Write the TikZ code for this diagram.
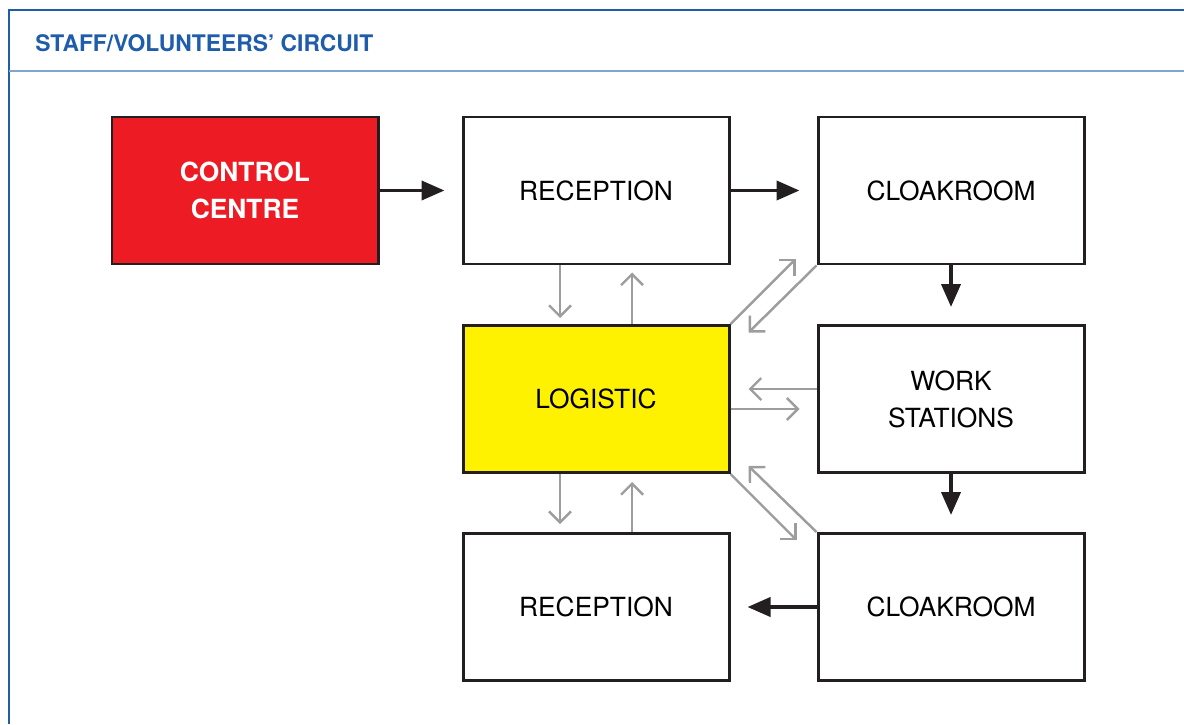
\documentclass[tikz,border=0pt]{standalone}
\usepackage{fontspec}
\setmainfont{TeX Gyre Heros}
\usetikzlibrary{arrows.meta}
\definecolor{frameblue}{HTML}{1F5DAB}
\definecolor{lineblue}{HTML}{7EA6D0}
\definecolor{boxred}{HTML}{ED1C24}
\definecolor{boxyellow}{HTML}{FFF200}
\definecolor{arrowgrey}{HTML}{9D9D9F}
\definecolor{boxline}{HTML}{231F20}

\begin{document}
\begin{tikzpicture}[
    stage/.style={rectangle, draw=boxline, line width=1.7pt, fill=white, minimum width=5.32cm, minimum height=2.94cm, align=center, inner sep=0pt, font=\fontsize{15}{21}\selectfont},
    control/.style={stage, fill=boxred, text=white, font=\fontsize{15}{21}\selectfont\bfseries},
    hub/.style={stage, fill=boxyellow},
    mainflow/.style={-{Triangle[length=0.46cm, width=0.38cm]}, line width=2.2pt, draw=boxline, shorten >=0.34cm},
    sideflow/.style={-{Straight Barb[length=0.22cm, width=0.44cm]}, line width=1.4pt, draw=arrowgrey}
]
\useasboundingbox (0,0) rectangle (23.68,14.48);

% Frame and heading
\draw[frameblue, line width=1.4pt] (23.68,14.28) -- (0.18,14.28) -- (0.18,0);
\draw[lineblue, line width=1.2pt] (0.18,13.06) -- (23.68,13.06);
\node[font=\fontsize{13}{15}\selectfont\bfseries, text=frameblue, anchor=west, inner sep=0pt] (title) at (0.70,13.62) {STAFF/VOLUNTEERS’ CIRCUIT};

% Stations of the circuit
\node[control] (control) at (4.90,10.67) {CONTROL\\CENTRE};
\node[stage] (reception1) at (11.92,10.67) {RECEPTION};
\node[stage] (cloakroom1) at (19.02,10.67) {CLOAKROOM};
\node[hub] (logistic) at (11.92,6.50) {LOGISTIC};
\node[stage] (stations) at (19.02,6.50) {WORK\\STATIONS};
\node[stage] (reception2) at (11.92,2.34) {RECEPTION};
\node[stage] (cloakroom2) at (19.02,2.34) {CLOAKROOM};

% Free ends of the diagonal links
\coordinate (toCloak1) at ([shift={(1.3,1.3)}]logistic.north east);
\coordinate (fromCloak1) at ([shift={(-1.36,-1.34)}]cloakroom1.south west);
\coordinate (toCloak2) at ([shift={(1.32,-1.32)}]logistic.south east);
\coordinate (fromCloak2) at ([shift={(-1.36,1.32)}]cloakroom2.north west);

% Main circuit
\draw[mainflow] (control) -- (reception1);
\draw[mainflow] (reception1) -- (cloakroom1);
\draw[mainflow] (cloakroom1) -- (stations);
\draw[mainflow] (stations) -- (cloakroom2);
\draw[mainflow] (cloakroom2) -- (reception2);

% Logistic links
\draw[sideflow, shorten >=0.12cm] ([xshift=-0.72cm]reception1.south) -- ([xshift=-0.72cm]logistic.north);
\draw[sideflow, shorten >=0.14cm] ([xshift=0.72cm]logistic.north) -- ([xshift=0.72cm]reception1.south);
\draw[sideflow, shorten >=0.16cm] ([xshift=-0.72cm]logistic.south) -- ([xshift=-0.72cm]reception2.north);
\draw[sideflow, shorten >=0.16cm] ([xshift=0.72cm]reception2.north) -- ([xshift=0.72cm]logistic.south);
\draw[sideflow, shorten >=0.36cm] ([yshift=0.2cm]stations.west) -- ([yshift=0.2cm]logistic.east);
\draw[sideflow, shorten >=0.34cm] ([yshift=-0.2cm]logistic.east) -- ([yshift=-0.2cm]stations.west);
\draw[sideflow] (logistic.north east) -- (toCloak1);
\draw[sideflow] (cloakroom1.south west) -- (fromCloak1);
\draw[sideflow] (logistic.south east) -- (toCloak2);
\draw[sideflow] (cloakroom2.north west) -- (fromCloak2);

\end{tikzpicture}
\end{document}
